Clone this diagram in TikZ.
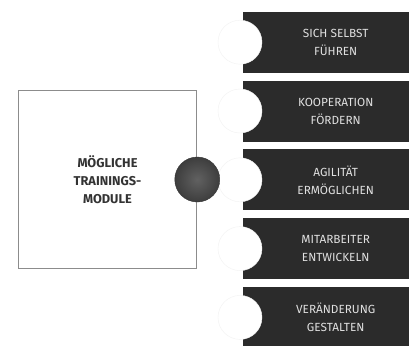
\documentclass[tikz,border=0pt]{standalone}
\usepackage{fontspec}
\setsansfont{Fira Sans}
\usetikzlibrary{positioning}
\definecolor{barcol}{HTML}{2B2B2B}
\begin{document}
\begin{tikzpicture}[x=1pt,y=-1pt,
    bar/.style = {fill=barcol, minimum width=166pt, minimum height=61pt, inner sep=0pt},
    bite/.style = {circle, fill=white, draw=black!5, minimum size=44pt, inner sep=0pt},
    lab/.style = {text=black!12, font=\sffamily\fontsize{11.8}{18}\selectfont, align=center},
    main/.style = {draw=black!45, line width=1.5pt, minimum size=178pt, inner sep=0pt,
        text=black!80, font=\sffamily\bfseries\fontsize{12.8}{18.3}\selectfont, align=center},
    ball/.style = {circle, draw=black!80, inner color=black!62, outer color=black!76, minimum size=45pt, inner sep=0pt}]
    \useasboundingbox (0,0) rectangle (409,345);
    \clip (0,0) rectangle (409,345);
    \fill[white] (0,0) rectangle (409,345);
    \node[main] (box) at (107.5,179.5) {MÖGLICHE\\TRAININGS-\\MODULE};
    \node[bar, anchor=north west] (b1) at (243,11.5) {};
    \node[bar] (b2) [below=7.4pt of b1] {};
    \node[bar] (b3) [below=7.4pt of b2] {};
    \node[bar] (b4) [below=7.4pt of b3] {};
    \node[bar] (b5) [below=7.4pt of b4] {};
    \node[bite] (c1) at ([xshift=-3pt]b1.west) {};
    \node[bite] (c2) at ([xshift=-3pt]b2.west) {};
    \node[bite] (c3) at ([xshift=-3pt]b3.west) {};
    \node[bite] (c4) at ([xshift=-3pt]b4.west) {};
    \node[bite] (c5) at ([xshift=-3pt]b5.west) {};
    \node[lab] (t1) at ([xshift=9.5pt]b1.center) {SICH SELBST\\FÜHREN};
    \node[lab] (t2) at ([xshift=9.5pt]b2.center) {KOOPERATION\\FÖRDERN};
    \node[lab] (t3) at ([xshift=9.5pt]b3.center) {AGILITÄT\\ERMÖGLICHEN};
    \node[lab] (t4) at ([xshift=9.5pt]b4.center) {MITARBEITER\\ENTWICKELN};
    \node[lab] (t5) at ([xshift=9.5pt]b5.center) {VERÄNDERUNG\\GESTALTEN};
    \node[ball] (dot) at (box.east) {};
\end{tikzpicture}
\end{document}
